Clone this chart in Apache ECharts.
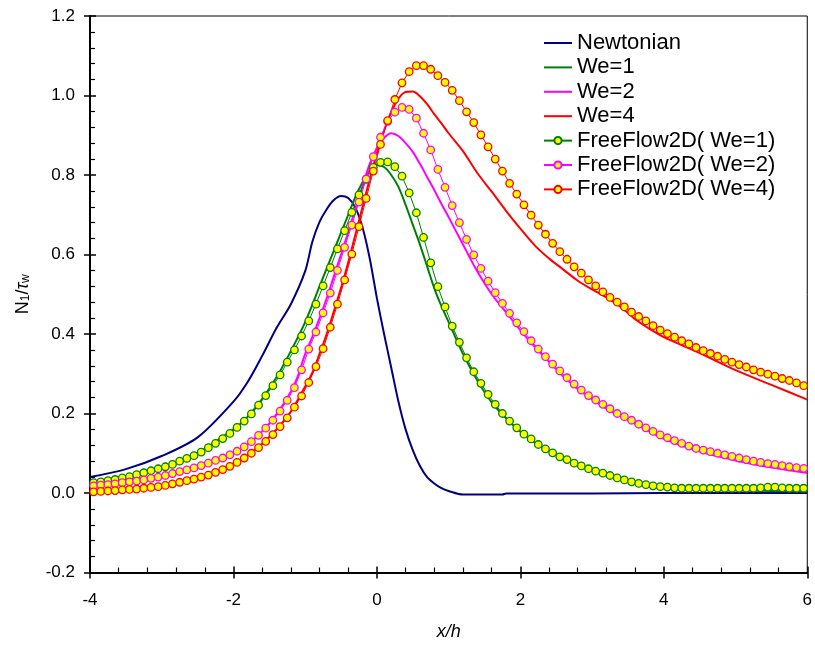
<!DOCTYPE html>
<html>
<head>
<meta charset="utf-8">
<script src="https://cdn.jsdelivr.net/npm/echarts@6/dist/echarts.min.js"></script>
<style>html,body{margin:0;padding:0;background:#fff}#c{width:815px;height:646px}</style>
</head>
<body>
<div id="c"></div>
<script>
// ---- data ----
var seriesNames = ['Newtonian','We=1','We=2','We=4','FreeFlow2D( We=1)','FreeFlow2D( We=2)','FreeFlow2D( We=4)'];
var xTicks = [-4,-2,0,2,4,6];
var yTicks = [-0.2,0,0.2,0.4,0.6,0.8,1.0,1.2];

var newtX = [-4,-3.5,-3,-2.5,-2,-1.8,-1.6,-1.4,-1.2,-1.0,-0.9,-0.8,-0.7,-0.6,-0.5,-0.4,-0.3,-0.2,-0.1,0,0.1,0.2,0.3,0.4,0.5,0.6,0.7,0.8,0.9,1.0,1.2,1.5,1.75,1.8,3,4,5,6];
var newtY = [0.040,0.060,0.093,0.140,0.230,0.280,0.345,0.415,0.475,0.558,0.632,0.682,0.714,0.737,0.747,0.742,0.718,0.668,0.590,0.490,0.400,0.315,0.230,0.160,0.108,0.068,0.040,0.024,0.012,0.005,-0.004,-0.004,-0.004,-0.001,-0.001,0,0,0];

var we1X = [-4,-3.5,-3,-2.5,-2,-1.8,-1.6,-1.4,-1.2,-1.0,-0.8,-0.6,-0.4,-0.3,-0.2,-0.1,0,0.1,0.2,0.3,0.4,0.5,0.6,0.7,0.8,0.9,1.0,1.2,1.4,1.6,1.8,2.0,2.2,2.4,2.6,2.8,3.0,3.2,3.4,3.6,3.8,4.0,4.5,5.0,5.5,6.0];
var we1Y = [0.027,0.041,0.063,0.101,0.160,0.192,0.237,0.291,0.357,0.430,0.520,0.610,0.700,0.745,0.782,0.810,0.825,0.820,0.800,0.770,0.725,0.675,0.625,0.570,0.515,0.470,0.430,0.350,0.283,0.228,0.188,0.154,0.127,0.104,0.086,0.070,0.057,0.046,0.035,0.026,0.019,0.014,0.008,0.006,0.005,0.004];

var we2X = [-4,-3.5,-3,-2.5,-2,-1.8,-1.6,-1.4,-1.2,-1.1,-1.0,-0.9,-0.8,-0.7,-0.6,-0.5,-0.4,-0.3,-0.2,-0.1,0,0.1,0.2,0.3,0.4,0.5,0.6,0.7,0.8,0.9,1.0,1.2,1.4,1.6,1.8,2.0,2.2,2.4,2.6,2.8,3.0,3.2,3.4,3.6,3.8,4.0,4.5,5.0,5.5,6.0];
var we2Y = [0.018,0.027,0.043,0.068,0.101,0.123,0.155,0.198,0.255,0.295,0.350,0.393,0.440,0.490,0.545,0.600,0.656,0.715,0.772,0.828,0.868,0.893,0.905,0.898,0.880,0.858,0.828,0.795,0.762,0.727,0.694,0.625,0.557,0.500,0.455,0.410,0.368,0.330,0.293,0.262,0.236,0.212,0.193,0.174,0.155,0.136,0.104,0.082,0.064,0.050];

var we4X = [-4,-3.5,-3,-2.5,-2,-1.8,-1.6,-1.4,-1.2,-1.0,-0.9,-0.8,-0.7,-0.6,-0.5,-0.4,-0.3,-0.2,-0.1,0,0.1,0.2,0.3,0.4,0.5,0.6,0.7,0.8,0.9,1.0,1.2,1.4,1.6,1.8,2.0,2.2,2.4,2.6,2.8,3.0,3.2,3.4,3.6,3.8,4.0,4.5,5.0,5.5,6.0];
var we4Y = [0.004,0.008,0.018,0.038,0.073,0.095,0.124,0.160,0.205,0.268,0.303,0.350,0.400,0.457,0.516,0.580,0.650,0.720,0.790,0.855,0.912,0.958,0.992,1.009,1.010,0.998,0.978,0.953,0.930,0.905,0.860,0.805,0.758,0.710,0.665,0.623,0.590,0.562,0.534,0.512,0.492,0.468,0.437,0.413,0.392,0.352,0.309,0.272,0.235];

var ffX = [-3.95,-3.85,-3.75,-3.65,-3.55,-3.45,-3.35,-3.25,-3.15,-3.05,
           -2.95,-2.85,-2.75,-2.65,-2.55,-2.45,-2.35,-2.25,-2.15,-2.05,
           -1.95,-1.85,-1.75,-1.65,-1.55,-1.45,-1.35,-1.25,-1.15,-1.05,
           -0.95,-0.85,-0.75,-0.65,-0.55,-0.45,-0.35,-0.25,-0.15,-0.05,
           0.05,0.15,0.25,0.35,0.45,0.55,0.65,0.75,0.85,0.95,
           1.05,1.15,1.25,1.35,1.45,1.55,1.65,1.75,1.85,1.95,
           2.05,2.15,2.25,2.35,2.45,2.55,2.65,2.75,2.85,2.95,
           3.05,3.15,3.25,3.35,3.45,3.55,3.65,3.75,3.85,3.95,
           4.05,4.15,4.25,4.35,4.45,4.55,4.65,4.75,4.85,4.95,
           5.05,5.15,5.25,5.35,5.45,5.55,5.65,5.75,5.85,5.95];
var ff1Y = [0.026,0.028,0.031,0.034,0.038,0.041,0.046,0.051,0.056,0.061,
            0.066,0.072,0.080,0.087,0.094,0.103,0.114,0.125,0.137,0.150,
            0.165,0.181,0.199,0.221,0.245,0.270,0.297,0.329,0.360,0.395,
            0.433,0.475,0.521,0.567,0.614,0.660,0.706,0.750,0.789,0.819,
            0.832,0.833,0.821,0.797,0.755,0.705,0.643,0.579,0.519,0.468,
            0.420,0.379,0.340,0.305,0.276,0.248,0.223,0.200,0.181,0.164,
            0.148,0.136,0.122,0.111,0.101,0.091,0.084,0.075,0.068,0.061,
            0.055,0.050,0.044,0.038,0.033,0.028,0.024,0.021,0.018,0.016,
            0.015,0.013,0.012,0.012,0.012,0.012,0.012,0.012,0.012,0.012,
            0.012,0.012,0.012,0.013,0.015,0.015,0.013,0.012,0.012,0.012];
var ff2Y = [0.018,0.020,0.021,0.023,0.026,0.028,0.030,0.033,0.037,0.040,
            0.044,0.049,0.054,0.058,0.063,0.069,0.075,0.082,0.088,0.096,
            0.105,0.116,0.129,0.145,0.163,0.183,0.206,0.233,0.265,0.310,
            0.362,0.405,0.453,0.503,0.560,0.618,0.674,0.732,0.790,0.846,
            0.895,0.935,0.958,0.970,0.965,0.943,0.905,0.863,0.814,0.769,
            0.723,0.680,0.638,0.599,0.565,0.533,0.504,0.477,0.452,0.428,
            0.406,0.383,0.362,0.343,0.324,0.307,0.290,0.274,0.259,0.245,
            0.234,0.223,0.212,0.200,0.192,0.183,0.173,0.164,0.155,0.146,
            0.139,0.132,0.125,0.118,0.112,0.108,0.104,0.100,0.096,0.092,
            0.088,0.084,0.080,0.077,0.074,0.072,0.069,0.066,0.064,0.062];
var ff4Y = [0.003,0.004,0.005,0.006,0.008,0.009,0.010,0.012,0.014,0.016,
            0.019,0.023,0.027,0.031,0.035,0.040,0.045,0.052,0.059,0.067,
            0.077,0.088,0.100,0.114,0.130,0.147,0.167,0.189,0.216,0.244,
            0.278,0.318,0.363,0.417,0.475,0.536,0.601,0.670,0.741,0.810,
            0.877,0.937,0.990,1.032,1.060,1.075,1.075,1.066,1.050,1.033,
            1.013,0.987,0.959,0.932,0.901,0.871,0.840,0.810,0.779,0.752,
            0.725,0.699,0.674,0.651,0.628,0.607,0.588,0.569,0.553,0.536,
            0.521,0.506,0.492,0.480,0.468,0.455,0.444,0.433,0.421,0.410,
            0.401,0.392,0.383,0.375,0.366,0.358,0.351,0.344,0.336,0.329,
            0.323,0.317,0.310,0.304,0.299,0.294,0.288,0.283,0.277,0.270];

var colors = ['#000080','#008000','#ff00ff','#ff0000','#008000','#ff00ff','#ff0000'];

function pairs(xs, ys){ return xs.map(function(x,i){ return [x, ys[i]]; }); }

var FONT = '"Liberation Sans", Arial, sans-serif';

function solid(name, xs, ys, color){
  return {name:name, type:'line', data:pairs(xs,ys), symbol:'none', smooth:0.3,
          lineStyle:{color:color, width:2}, itemStyle:{color:color}, z:2};
}
function ff(name, ys, color){
  return {name:name, type:'line', data:pairs(ffX,ys), symbol:'circle', symbolSize:7.5,
          showSymbol:true, showAllSymbol:true,
          lineStyle:{color:color, width:1}, itemStyle:{color:'#ffff00', borderColor:color, borderWidth:1.3}, z:3};
}

var legendData = seriesNames.map(function(n, i){
  if (i < 4) return {name:n, itemStyle:{opacity:0}, lineStyle:{color:colors[i], width:2}};
  return {name:n};
});

var chart = echarts.init(document.getElementById('c'), null, {renderer:'canvas'});
chart.setOption({
  animation:false,
  backgroundColor:'#fff',
  grid:{left:90, right:3, top:16, bottom:73.5, show:true, borderColor:'#000', borderWidth:1, backgroundColor:'transparent'},
  legend:{
    orient:'vertical', left:535, top:27, padding:[4,30,6,8],
    backgroundColor:'#fff', itemWidth:28, itemHeight:9, itemGap:0.4,
    textStyle:{fontFamily:FONT, fontSize:22, color:'#000', lineHeight:24},
    data:legendData
  },
  xAxis:[{
    type:'value', min:xTicks[0], max:xTicks[xTicks.length-1], interval:2, position:'bottom',
    axisLine:{show:true, onZero:false, lineStyle:{color:'#000', width:2}},
    axisTick:{show:true, inside:false, length:6, lineStyle:{color:'#000', width:1.5}},
    axisLabel:{fontFamily:FONT, fontSize:17, color:'#000', margin:19},
    splitLine:{show:false},
    name:'x/h', nameLocation:'middle', nameGap:50,
    nameTextStyle:{fontFamily:FONT, fontSize:18, fontStyle:'italic', color:'#000'}
  },{
    type:'value', min:xTicks[0], max:xTicks[xTicks.length-1], interval:2, position:'bottom',
    axisLine:{show:false, onZero:false}, axisLabel:{show:false}, splitLine:{show:false},
    axisTick:{show:true, inside:true, length:6, lineStyle:{color:'#000', width:1.5}},
    minorTick:{show:true, splitNumber:5, length:5, lineStyle:{color:'#000', width:1.2}}
  }],
  yAxis:[{
    type:'value', min:yTicks[0], max:yTicks[yTicks.length-1], interval:0.2, position:'left',
    axisLine:{show:true, onZero:false, lineStyle:{color:'#000', width:2}},
    axisTick:{show:true, inside:false, length:6, lineStyle:{color:'#000', width:1.5}},
    axisLabel:{fontFamily:FONT, fontSize:17, color:'#000', margin:15,
      formatter:function(v){ return (Math.abs(v)<1e-9?0:v).toFixed(1); }},
    splitLine:{show:false},
    name:'{n|N}{s|1}{n|/}{t|τ}{s|w}', nameLocation:'middle', nameGap:58,
    nameTextStyle:{fontFamily:FONT, fontSize:18, color:'#000',
      rich:{
        n:{fontFamily:FONT, fontSize:18, color:'#000'},
        t:{fontFamily:FONT, fontSize:18, fontStyle:'italic', color:'#000'},
        s:{fontFamily:FONT, fontSize:12, color:'#000', verticalAlign:'bottom', padding:[6,0,0,0]}
      }}
  },{
    type:'value', min:yTicks[0], max:yTicks[yTicks.length-1], interval:0.2, position:'left',
    axisLine:{show:false, onZero:false}, axisLabel:{show:false}, splitLine:{show:false},
    axisTick:{show:true, inside:true, length:6, lineStyle:{color:'#000', width:1.5}},
    minorTick:{show:true, splitNumber:5, length:5, lineStyle:{color:'#000', width:1.2}}
  }],
  series:[
    solid(seriesNames[0], newtX, newtY, colors[0]),
    solid(seriesNames[1], we1X, we1Y, colors[1]),
    solid(seriesNames[2], we2X, we2Y, colors[2]),
    solid(seriesNames[3], we4X, we4Y, colors[3]),
    ff(seriesNames[4], ff1Y, colors[4]),
    ff(seriesNames[5], ff2Y, colors[5]),
    ff(seriesNames[6], ff4Y, colors[6])
  ]
});
</script>
</body>
</html>
